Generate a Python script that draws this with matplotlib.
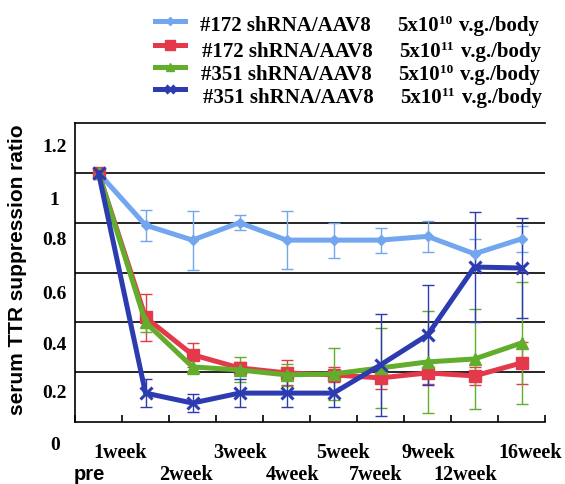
import numpy as np
import matplotlib
matplotlib.use("Agg")
import matplotlib.pyplot as plt
from matplotlib.transforms import ScaledTranslation

weeks = ['pre', '1week', '2week', '3week', '4week', '5week', '7week', '9week', '12week', '16week']

# mean and SD
sh172_low = [1.0, 0.79, 0.73, 0.80, 0.73, 0.73, 0.73, 0.745, 0.675, 0.735]
sh172_low_sd = [0, 0.062, 0.118, 0.03, 0.116, 0.07, 0.05, 0.061, 0.06, 0.053]
sh172_high = [1.0, 0.42, 0.27, 0.217, 0.197, 0.189, 0.177, 0.197, 0.185, 0.237]
sh172_high_sd = [0, 0.093, 0.048, 0.022, 0.05, 0.03, 0.045, 0.044, 0.037, 0.085]
sh351_low = [1.0, 0.40, 0.221, 0.209, 0.189, 0.193, 0.217, 0.241, 0.253, 0.317]
sh351_low_sd = [0, 0.04, 0.028, 0.05, 0.045, 0.105, 0.16, 0.205, 0.2, 0.245]
sh351_high = [1.0, 0.116, 0.076, 0.116, 0.116, 0.116, 0.229, 0.349, 0.622, 0.618]
sh351_high_sd = [0, 0.055, 0.036, 0.055, 0.055, 0.055, 0.205, 0.2, 0.22, 0.2]

constructs = ['#172 shRNA/AAV8', '#172 shRNA/AAV8', '#351 shRNA/AAV8', '#351 shRNA/AAV8']
dose_exp = ['10', '11', '10', '11']

yticks = [0, 0.2, 0.4, 0.6, 0.8, 1.0, 1.2]
ytick_labels = ['0', '0.2', '0.4', '0.6', '0.8', '1', '1.2']

serif = 'Liberation Serif'
sans = 'Liberation Sans'

fig = plt.figure(figsize=(5.65, 4.84), dpi=100)
ax = fig.add_axes([75 / 565, 1 - 422 / 484, 470 / 565, 299 / 484])

x = np.arange(len(weeks))
series = [
    (sh172_low, sh172_low_sd, '#72a6ee', 'D', 5, 1),
    (sh172_high, sh172_high_sd, '#e3394b', 's', 9, 1),
    (sh351_low, sh351_low_sd, '#62ad2c', '^', 8, 1),
    (sh351_high, sh351_high_sd, '#2c3bb0', 'x', 8, 2.2),
]
for vals, sd, col, mk, ms, mew in series:
    ax.errorbar(x[1:], vals[1:], yerr=sd[1:], fmt='none', ecolor=col,
                elinewidth=1.0, capsize=4, capthick=1.0, zorder=2)
    ax.plot(x, vals, color=col, lw=3.6, marker=mk, markersize=ms,
            markeredgewidth=mew, markeredgecolor=col, zorder=3)

ax.set_xlim(-0.5, len(weeks) - 0.5)
ax.set_ylim(0, 1.2)
for v in yticks[1:-1]:
    ax.axhline(v, color='black', lw=1.2, zorder=1)

ax.spines['right'].set_visible(False)
for s in ['left', 'bottom', 'top']:
    ax.spines[s].set_linewidth(1.2)
    ax.spines[s].set_color('black')

ax.set_xticks(np.arange(-0.5, len(weeks), 1.0))
ax.set_xticklabels([])
ax.tick_params(axis='x', direction='in', length=5, width=1.2)
ax.set_yticks([])

# y tick labels sit a little below their grid lines, as in the original
ydrop = [23, 21, 23, 22, 18, 28, 25]
for v, t, d in zip(yticks, ytick_labels, ydrop):
    tr = ax.get_yaxis_transform() + ScaledTranslation(0, -d / 100, fig.dpi_scale_trans)
    ax.text(-0.043, v, t, transform=tr, ha='center', va='center',
            family=serif, fontweight='bold', fontsize=14)

# staggered x labels
xoff = [-0.2, -0.53, -0.15, 0.0, 0.13, 0.21, -0.1, 0.02, -0.19, 0.19]
for i, w in enumerate(weeks):
    row = 1 if i in (1, 3, 5, 7, 9) else 0
    fam = sans if w == 'pre' else serif
    tr = ax.get_xaxis_transform() + ScaledTranslation(0, -(31 if row else 53) / 100, fig.dpi_scale_trans)
    ax.text(i + xoff[i], 0, w, transform=tr, ha='center', va='center',
            family=fam, fontweight='bold', fontsize=14.5)

fig.text(18 / 565, 1 - 270 / 484, 'serum TTR suppression ratio', rotation=90,
         ha='center', va='center', family=sans, fontweight='bold', fontsize=15)

# legend drawn by hand on a full-figure overlay (pixel coordinates)
lg = fig.add_axes([0, 0, 1, 1], facecolor='none')
lg.set_xlim(0, 565)
lg.set_ylim(484, 0)
lg.axis('off')
hy = [21, 45, 67, 89]
base = [31, 57, 80, 103]
tx = [200, 202, 201, 203]
kw = dict(family=serif, fontweight='bold', va='baseline', ha='left')
for i, (vals, sd, col, mk, ms, mew) in enumerate(series):
    lg.plot([155, 185], [hy[i], hy[i]], color=col, lw=3.6)
    lg.plot([170], [hy[i]], color=col, marker=mk, markersize=ms * 0.8,
            markeredgewidth=mew, markeredgecolor=col)
    lg.text(tx[i], base[i], constructs[i], fontsize=15, **kw)
    lg.text(tx[i] + 197, base[i], '5x10', fontsize=15, **kw)
    lg.text(tx[i] + 239, base[i] - 7, dose_exp[i], fontsize=9.5, **kw)
    lg.text(tx[i] + 259, base[i], 'v.g./body', fontsize=15, **kw)

fig.savefig('out.png', dpi=100)
